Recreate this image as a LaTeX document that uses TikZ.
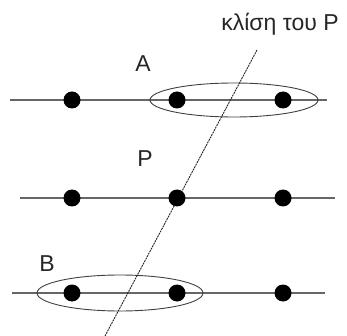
\documentclass[tikz,border=0pt]{standalone}
\usepackage{fontspec}
\setmainfont{Liberation Sans}
\begin{document}
\begin{tikzpicture}[x=1pt,y=-1pt,
  dot/.style={circle,fill=black,inner sep=0pt,minimum size=17pt},
  rowline/.style={draw=black!60,line width=1.2pt},
  groupell/.style={draw=black!75,line width=0.9pt},
  slant/.style={draw=black!85,line width=0.9pt,dash pattern=on 2pt off 0.8pt},
  lbl/.style={font=\fontsize{23}{26}\selectfont,text=black!85,inner sep=0pt}]
\useasboundingbox (0,0) rectangle (347,336);
% rows
\coordinate (a0) at (10,100); \coordinate (a1) at (327,100);
\coordinate (p0) at (20,198); \coordinate (p1) at (335,198);
\coordinate (b0) at (12,293); \coordinate (b1) at (325,293);
\draw[rowline] (a0) -- (a1);
\draw[rowline] (p0) -- (p1);
\draw[rowline] (b0) -- (b1);
% ellipses
\draw[groupell] (234,100) ellipse [x radius=84, y radius=17];
\draw[groupell] (120,293) ellipse [x radius=83, y radius=18];
% slanted line
\coordinate (s0) at (257,50); \coordinate (s1) at (105,336);
\draw[slant] (s0) -- (s1);
% dots
\foreach \r/\y in {A/100,P/198,B/293}{
  \node[dot] (\r1) at (72,\y) {};
  \node[dot] (\r2) at (177,\y) {};
  \node[dot] (\r3) at (283,\y) {};
}
% labels
\node[lbl] (t) at (280,24) {κλίση του P};
\node[lbl] (la) at (143,64) {A};
\node[lbl] (lp) at (145,159) {P};
\node[lbl] (lb) at (47,264) {B};
\end{tikzpicture}
\end{document}
